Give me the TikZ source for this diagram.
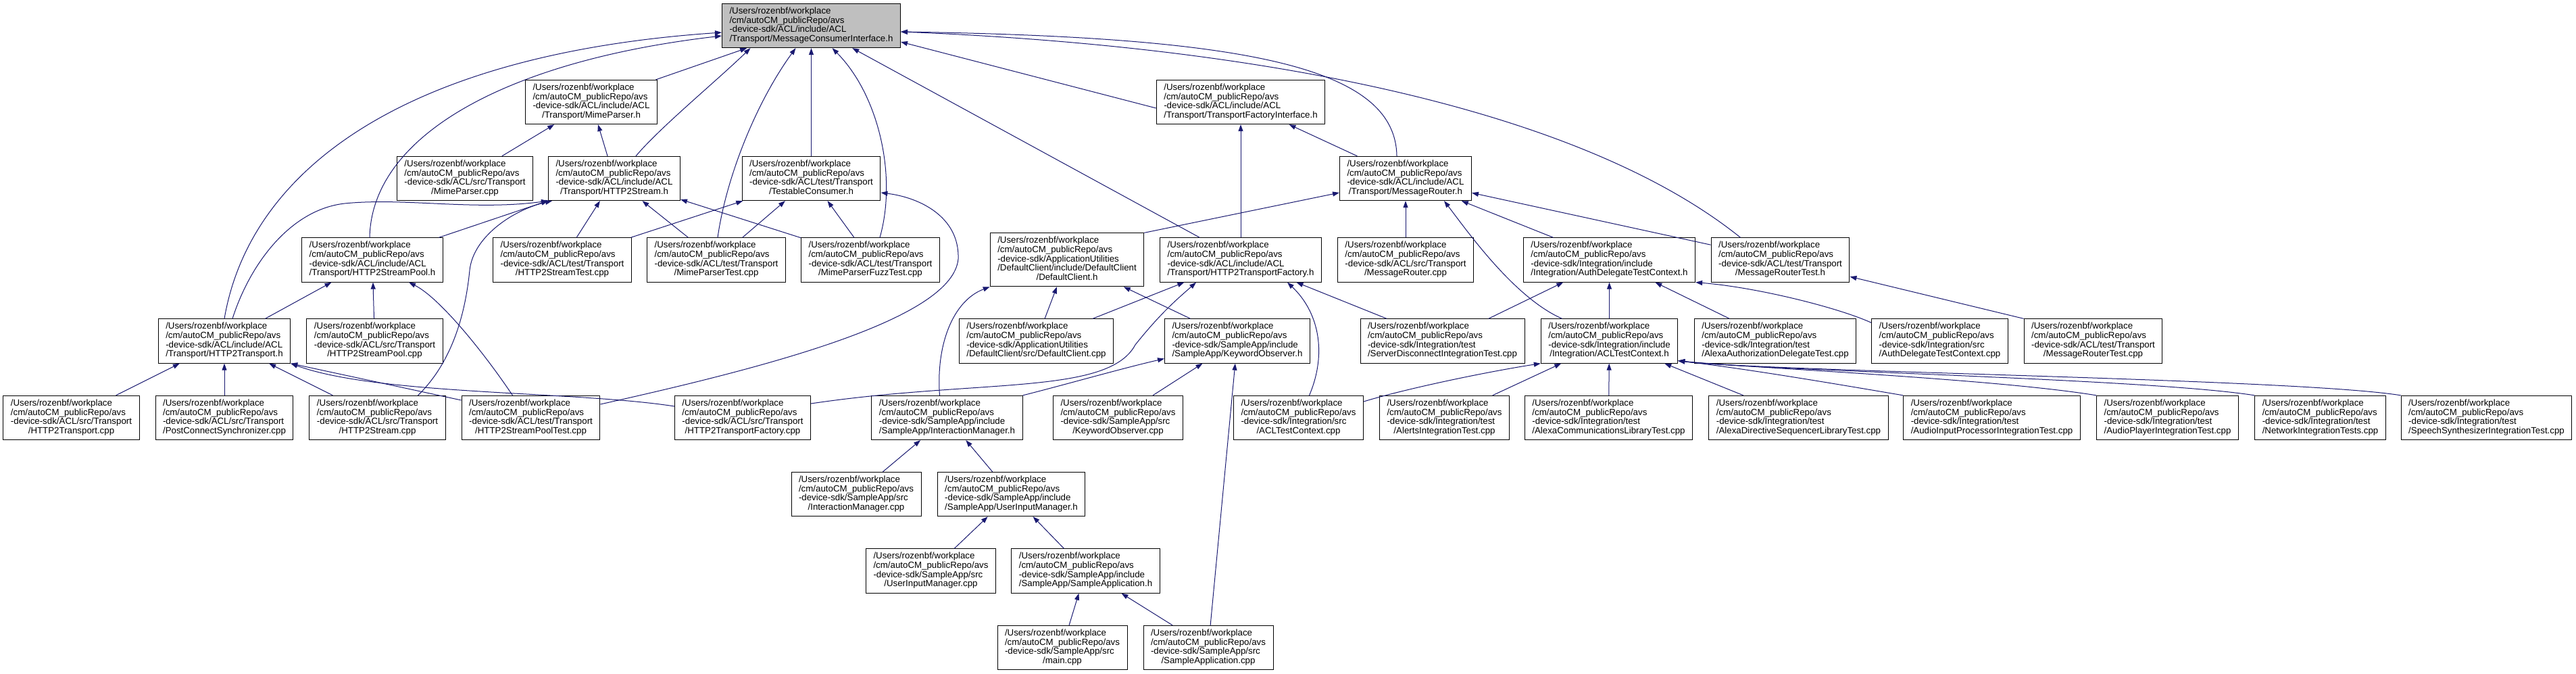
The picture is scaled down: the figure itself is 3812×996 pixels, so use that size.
\documentclass[tikz,border=0pt]{standalone}
\usepackage{fontspec}
\setmainfont{Liberation Sans}
\usepackage{tikz}
\usetikzlibrary{arrows.meta, positioning}
\definecolor{doxedge}{RGB}{25,25,112}
\definecolor{doxroot}{RGB}{191,191,191}
%% four-line doxygen label, last line centred
\newcommand{\doxfile}[2]{\begin{tabular}{@{}l@{}}/Users/rozenbf/workplace\\/cm/autoCM\_publicRepo/avs\\#1\\\multicolumn{1}{@{}c@{}}{#2}\end{tabular}}
\newcommand{\doxfilev}[3]{\begin{tabular}{@{}l@{}}/Users/rozenbf/workplace\\/cm/autoCM\_publicRepo/avs\\#1\\#2\\\multicolumn{1}{@{}c@{}}{#3}\end{tabular}}
\tikzset{
  %% ---- boxes ----
  filebox/.style = {rectangle, draw=black, line width=1pt, fill=white,
                    inner xsep=11pt, inner ysep=5.4pt,
                    font=\fontsize{13.3}{13.3}\selectfont},
  rootbox/.style = {filebox, fill=doxroot},
  %% ---- arrows ----
  incl/.style    = {-{Triangle[length=10pt,width=7pt]}, line width=1pt, color=doxedge},
}

\begin{document}
\begin{tikzpicture}[x=1pt, y=-1pt]
  \useasboundingbox (0,0) rectangle (3812,996);

  %% Row 0
  \node[rootbox] (mci) at (1200.5,38) {\doxfile{-device-sdk/ACL/include/ACL}{/Transport/MessageConsumerInterface.h}};

  %% Row 1
  \node[filebox] (mph) at (875,151) {\doxfile{-device-sdk/ACL/include/ACL}{/Transport/MimeParser.h}};
  \node[filebox] (tfi) at (1836,151) {\doxfile{-device-sdk/ACL/include/ACL}{/Transport/TransportFactoryInterface.h}};

  %% Row 2
  \node[filebox] (mpcpp) at (688,264) {\doxfile{-device-sdk/ACL/src/Transport}{/MimeParser.cpp}};
  \node[filebox] (h2sh) at (909,264) {\doxfile{-device-sdk/ACL/include/ACL}{/Transport/HTTP2Stream.h}};
  \node[filebox] (tch) at (1200.5,264) {\doxfile{-device-sdk/ACL/test/Transport}{/TestableConsumer.h}};
  \node[filebox] (mrh) at (2080,264) {\doxfile{-device-sdk/ACL/include/ACL}{/Transport/MessageRouter.h}};

  %% Row 3
  \node[filebox] (h2sph) at (551,384.5) {\doxfile{-device-sdk/ACL/include/ACL}{/Transport/HTTP2StreamPool.h}};
  \node[filebox] (h2stest) at (832,384.5) {\doxfile{-device-sdk/ACL/test/Transport}{/HTTP2StreamTest.cpp}};
  \node[filebox] (mptest) at (1060,384.5) {\doxfile{-device-sdk/ACL/test/Transport}{/MimeParserTest.cpp}};
  \node[filebox] (mpfuzz) at (1288,384.5) {\doxfile{-device-sdk/ACL/test/Transport}{/MimeParserFuzzTest.cpp}};
  \node[filebox] (dch) at (1579,384.3) {\doxfilev{-device-sdk/ApplicationUtilities}{/DefaultClient/include/DefaultClient}{/DefaultClient.h}};
  \node[filebox] (h2tfh) at (1836,384.5) {\doxfile{-device-sdk/ACL/include/ACL}{/Transport/HTTP2TransportFactory.h}};
  \node[filebox] (mrcpp) at (2080,384.5) {\doxfile{-device-sdk/ACL/src/Transport}{/MessageRouter.cpp}};
  \node[filebox] (adtch) at (2381.5,384.5) {\doxfile{-device-sdk/Integration/include}{/Integration/AuthDelegateTestContext.h}};
  \node[filebox] (mrth) at (2634.5,384.5) {\doxfile{-device-sdk/ACL/test/Transport}{/MessageRouterTest.h}};

  %% Row 4
  \node[filebox] (h2th) at (332,504.5) {\doxfile{-device-sdk/ACL/include/ACL}{/Transport/HTTP2Transport.h}};
  \node[filebox] (h2spcpp) at (554.5,504.5) {\doxfile{-device-sdk/ACL/src/Transport}{/HTTP2StreamPool.cpp}};
  \node[filebox] (dccpp) at (1533.5,504.5) {\doxfile{-device-sdk/ApplicationUtilities}{/DefaultClient/src/DefaultClient.cpp}};
  \node[filebox] (kwoh) at (1831,504.5) {\doxfile{-device-sdk/SampleApp/include}{/SampleApp/KeywordObserver.h}};
  \node[filebox] (sdit) at (2134.5,504.5) {\doxfile{-device-sdk/Integration/test}{/ServerDisconnectIntegrationTest.cpp}};
  \node[filebox] (acltch) at (2381.5,504.5) {\doxfile{-device-sdk/Integration/include}{/Integration/ACLTestContext.h}};
  \node[filebox] (aadt) at (2627,504.5) {\doxfile{-device-sdk/Integration/test}{/AlexaAuthorizationDelegateTest.cpp}};
  \node[filebox] (adtccpp) at (2870.5,504.5) {\doxfile{-device-sdk/Integration/src}{/AuthDelegateTestContext.cpp}};
  \node[filebox] (mrtcpp) at (3097.5,504.5) {\doxfile{-device-sdk/ACL/test/Transport}{/MessageRouterTest.cpp}};

  %% Row 5
  \node[filebox] (h2tcpp) at (105.5,618) {\doxfile{-device-sdk/ACL/src/Transport}{/HTTP2Transport.cpp}};
  \node[filebox] (pcscpp) at (332,618) {\doxfile{-device-sdk/ACL/src/Transport}{/PostConnectSynchronizer.cpp}};
  \node[filebox] (h2scpp) at (558.5,618) {\doxfile{-device-sdk/ACL/src/Transport}{/HTTP2Stream.cpp}};
  \node[filebox] (h2sptest) at (785.5,618) {\doxfile{-device-sdk/ACL/test/Transport}{/HTTP2StreamPoolTest.cpp}};
  \node[filebox] (h2tfcpp) at (1099,618) {\doxfile{-device-sdk/ACL/src/Transport}{/HTTP2TransportFactory.cpp}};
  \node[filebox] (imh) at (1401.5,618) {\doxfile{-device-sdk/SampleApp/include}{/SampleApp/InteractionManager.h}};
  \node[filebox] (kwocpp) at (1654.5,618) {\doxfile{-device-sdk/SampleApp/src}{/KeywordObserver.cpp}};
  \node[filebox] (acltccpp) at (1921.5,618) {\doxfile{-device-sdk/Integration/src}{/ACLTestContext.cpp}};
  \node[filebox] (alertit) at (2137.5,618) {\doxfile{-device-sdk/Integration/test}{/AlertsIntegrationTest.cpp}};
  \node[filebox] (acltest) at (2380.5,618) {\doxfile{-device-sdk/Integration/test}{/AlexaCommunicationsLibraryTest.cpp}};
  \node[filebox] (adsltest) at (2661.5,618) {\doxfile{-device-sdk/Integration/test}{/AlexaDirectiveSequencerLibraryTest.cpp}};
  \node[filebox] (aipit) at (2947.5,618) {\doxfile{-device-sdk/Integration/test}{/AudioInputProcessorIntegrationTest.cpp}};
  \node[filebox] (apit) at (3207.5,618) {\doxfile{-device-sdk/Integration/test}{/AudioPlayerIntegrationTest.cpp}};
  \node[filebox] (netit) at (3433.5,618) {\doxfile{-device-sdk/Integration/test}{/NetworkIntegrationTests.cpp}};
  \node[filebox] (ssit) at (3679.5,618) {\doxfile{-device-sdk/Integration/test}{/SpeechSynthesizerIntegrationTest.cpp}};

  %% Rows 6-8 (SampleApp)
  \node[filebox] (imcpp) at (1267,731) {\doxfile{-device-sdk/SampleApp/src}{/InteractionManager.cpp}};
  \node[filebox] (uimh) at (1496.5,731) {\doxfile{-device-sdk/SampleApp/include}{/SampleApp/UserInputManager.h}};
  \node[filebox] (uimcpp) at (1377.5,844.5) {\doxfile{-device-sdk/SampleApp/src}{/UserInputManager.cpp}};
  \node[filebox] (sah) at (1606.5,844.5) {\doxfile{-device-sdk/SampleApp/include}{/SampleApp/SampleApplication.h}};
  \node[filebox] (maincpp) at (1572,958) {\doxfile{-device-sdk/SampleApp/src}{/main.cpp}};
  \node[filebox] (sacpp) at (1788,958) {\doxfile{-device-sdk/SampleApp/src}{/SampleApplication.cpp}};

  %% into MessageConsumerInterface.h
  \draw[incl] (h2th.north) .. controls (370,250) and (600,80) .. ([yshift=-10pt]mci.west);
  \draw[incl] ([xshift=-4pt]h2sph.north) .. controls (550,200) and (750,90) .. ([yshift=-15pt]mci.west);
  \draw[incl] (mph) -- (mci);
  \draw[incl] ([xshift=32pt]h2sh.north) .. controls (975,190) and (1060,120) .. ([xshift=-90pt]mci.south);
  \draw[incl] ([xshift=2pt]mptest.north) .. controls (1075,260) and (1120,150) .. ([xshift=-23pt]mci.south);
  \draw[incl] (tch) -- (mci);
  \draw[incl] ([xshift=14pt]mpfuzz.north) .. controls (1328,260) and (1300,140) .. ([xshift=31pt]mci.south);
  \draw[incl] (h2tfh) -- (mci);
  \draw[incl] ([yshift=-9pt]tfi.west) -- ([yshift=-24pt]mci.east);
  \draw[incl] ([xshift=-13pt]mrh.north) .. controls (2065,100) and (1850,55) .. ([yshift=-9pt]mci.east);
  \draw[incl] ([xshift=-59pt]mrth.north) .. controls (2350,170) and (1900,70) .. ([yshift=-9pt]mci.east);

  %% into MimeParser.h and TransportFactoryInterface.h
  \draw[incl] (mpcpp) -- (mph);
  \draw[incl] (h2sh) -- (mph);
  \draw[incl] (h2tfh) -- (tfi);
  \draw[incl] (mrh) -- (tfi);

  %% into HTTP2Stream.h
  \draw[incl] (h2sph) -- (h2sh);
  \draw[incl] ([xshift=60pt]h2scpp.north) .. controls (675,530) and (690,450) .. (695,400)
              .. controls (700,350) and (760,310) .. ([xshift=-92pt]h2sh.south);
  \draw[incl] ([xshift=12pt]h2th.north) .. controls (370,390) and (430,310) .. (510,301)
              .. controls (600,292) and (700,312) .. (h2sh.south west);
  \draw[incl] (h2stest) -- (h2sh);
  \draw[incl] (mptest) -- (h2sh);
  \draw[incl] (mpfuzz) -- (h2sh);

  %% into TestableConsumer.h
  \draw[incl] (h2stest) -- (tch);
  \draw[incl] (mptest) -- (tch);
  \draw[incl] (mpfuzz) -- (tch);
  \draw[incl] ([yshift=20pt]h2sptest.east) .. controls (1150,540) and (1410,470) .. (1418,383)
              .. controls (1420,320) and (1360,292) .. ([yshift=-21pt]tch.east);

  %% into HTTP2StreamPool.h
  \draw[incl] (h2th) -- (h2sph);
  \draw[incl] (h2spcpp) -- (h2sph);
  \draw[incl] ([xshift=-27pt]h2sptest.north) .. controls (715,520) and (650,440) .. ([xshift=54pt]h2sph.south);

  %% into HTTP2Transport.h
  \draw[incl] (h2tcpp) -- (h2th);
  \draw[incl] (pcscpp) -- (h2th);
  \draw[incl] (h2scpp) -- (h2th);
  \draw[incl] ([yshift=26pt]h2sptest.west) -- (h2th.south east);
  \draw[incl] ([yshift=17pt]h2tfcpp.west) .. controls (850,578) and (560,585) .. (h2th.south east);

  %% into DefaultClient.h
  \draw[incl] (dccpp) -- (dch);
  \draw[incl] (kwoh) -- (dch);
  \draw[incl] ([xshift=-11pt]imh.north) .. controls (1385,510) and (1410,445) .. (dch.south west);

  %% into MessageRouter.h
  \draw[incl] (dch.north east) -- ([yshift=-21pt]mrh.west);
  \draw[incl] (mrcpp) -- (mrh);
  \draw[incl] ([xshift=-70pt]acltch.north) .. controls (2240,440) and (2170,340) .. ([xshift=57pt]mrh.south);
  \draw[incl] (adtch) -- (mrh);
  \draw[incl] (mrth) -- (mrh);

  %% into HTTP2TransportFactory.h
  \draw[incl] (dccpp) -- (h2tfh);
  \draw[incl] ([yshift=21pt]h2tfcpp.east) .. controls (1450,560) and (1640,585) .. (1680,510)
              .. controls (1720,460) and (1745,440) .. ([xshift=-66pt]h2tfh.south);
  \draw[incl] ([xshift=16pt]acltccpp.north) .. controls (1965,520) and (1950,460) .. ([xshift=69pt]h2tfh.south);
  \draw[incl] (sdit) -- (h2tfh);

  %% into KeywordObserver.h
  \draw[incl] (imh.north east) .. controls (1580,568) and (1660,545) .. ([yshift=-26pt]kwoh.west);
  \draw[incl] (kwocpp) -- (kwoh);
  \draw[incl] (sacpp) -- (kwoh);

  %% SampleApp chain
  \draw[incl] (imcpp) -- (imh);
  \draw[incl] (uimh) -- (imh);
  \draw[incl] (uimcpp) -- (uimh);
  \draw[incl] (sah) -- (uimh);
  \draw[incl] (maincpp) -- (sah);
  \draw[incl] (sacpp) -- (sah);

  %% into AuthDelegateTestContext.h
  \draw[incl] (sdit) -- (adtch);
  \draw[incl] (acltch) -- (adtch);
  \draw[incl] (aadt) -- (adtch);
  \draw[incl] ([yshift=-6pt]adtccpp.north west) .. controls (2720,455) and (2600,425) .. (adtch.south east);

  %% into MessageRouterTest.h
  \draw[incl] (mrtcpp.north west) -- (mrth);

  %% into ACLTestContext.h
  \draw[incl] ([yshift=24pt]acltccpp.east) .. controls (2080,575) and (2200,550) .. (acltch.south west);
  \draw[incl] (alertit) -- (acltch);
  \draw[incl] (acltest) -- (acltch);
  \draw[incl] (adsltest) -- (acltch);
  \draw[incl] (aipit.north west) .. controls (2700,565) and (2580,545) .. ([yshift=4pt]acltch.south east);
  \draw[incl] (apit.north west) .. controls (2950,560) and (2600,545) .. ([yshift=4pt]acltch.south east);
  \draw[incl] (netit.north west) .. controls (3180,560) and (2600,548) .. ([yshift=4pt]acltch.south east);
  \draw[incl] (ssit.north west) .. controls (3400,560) and (2620,550) .. ([yshift=4pt]acltch.south east);

\end{tikzpicture}
\end{document}
